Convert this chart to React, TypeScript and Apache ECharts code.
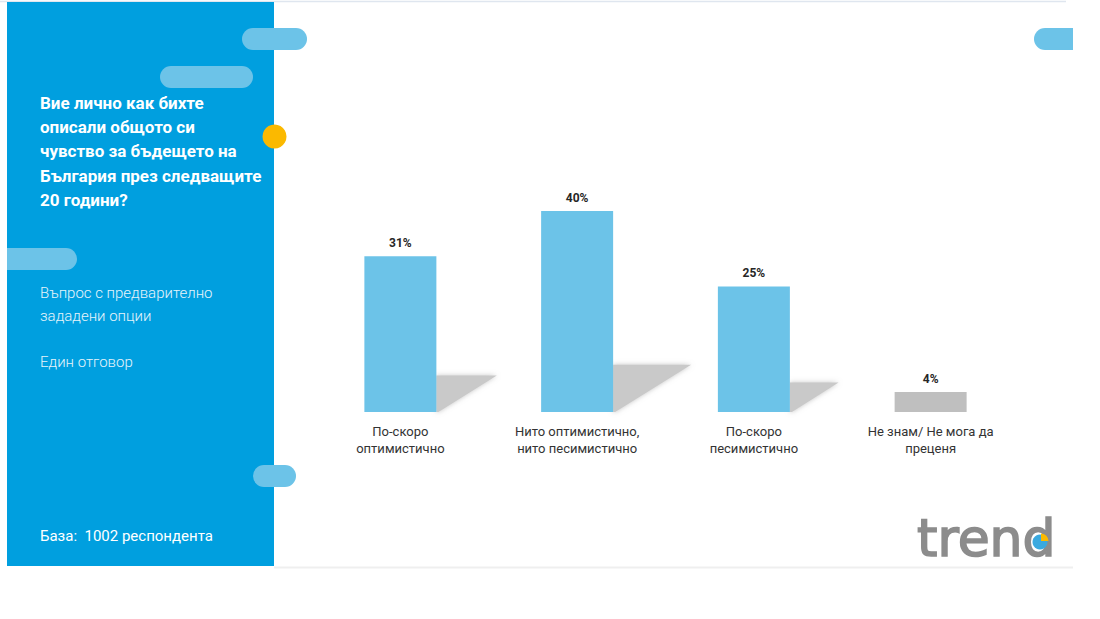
import React, { useEffect, useRef } from "react";
import * as echarts from "echarts";

const categories = [
  "По-скоро\nоптимистично",
  "Нито оптимистично,\nнито песимистично",
  "По-скоро\nпесимистично",
  "Не знам/ Не мога да\nпреценя",
];
const values = [31, 40, 25, 4];
const barColors = ["#6cc3e8", "#6cc3e8", "#6cc3e8", "#bfbfbf"];

const titleLines = [
  "Вие лично как бихте",
  "описали общото си",
  "чувство за бъдещето на",
  "България през следващите",
  "20 години?",
];
const noteLines = ["Въпрос с предварително", "зададени опции", "", "Един отговор"];
const baseText = "База:  1002 респондента";
const logoText = "trend";

const BLUE = "#009fdf";
const PILL = "#6cc3e8";

export default function App() {
  const ref = useRef<HTMLDivElement>(null);
  useEffect(() => {
    const chart = echarts.init(ref.current!, null, { renderer: "svg" });
    const pill = (x: number, y: number, w: number, h: number) => ({
      type: "rect",
      shape: { x, y, width: w, height: h, r: h / 2 },
      style: { fill: PILL },
      z: 1,
    });
    chart.setOption({
      animation: false,
      backgroundColor: "#ffffff",
      graphic: [
        { type: "line", shape: { x1: 0, y1: 1.5, x2: 1066, y2: 1.5 }, style: { stroke: "#dfe6ef", lineWidth: 1.5 }, z: 0 },
        { type: "line", shape: { x1: 274, y1: 567.5, x2: 1073, y2: 567.5 }, style: { stroke: "#efefef", lineWidth: 2 }, z: 0 },
        { type: "rect", shape: { x: 7, y: 2, width: 267, height: 564 }, style: { fill: BLUE }, z: 0 },
        { type: "rect", shape: { x: 1073, y: 0, width: 27, height: 619 }, style: { fill: "#ffffff" }, z: 3 },
        pill(242, 28, 65, 22),
        pill(160, 66, 93, 22),
        { type: "rect", shape: { x: 7, y: 248, width: 70, height: 22, r: [0, 11, 11, 0] }, style: { fill: PILL }, z: 1 },
        pill(253, 465, 43, 22),
        pill(1034, 28, 60, 22),
        { type: "circle", shape: { cx: 274.5, cy: 136.5, r: 12 }, style: { fill: "#fbb900" }, z: 2 },
        ...titleLines.map((t, i) => ({
          type: "text",
          x: 40,
          y: 103 + i * 24.2,
          style: { text: t, fill: "#ffffff", font: "bold 17px Roboto", textVerticalAlign: "middle" },
          z: 2,
        })),
        ...noteLines.map((t, i) => ({
          type: "text",
          x: 40,
          y: 293 + i * 23,
          style: { text: t, fill: "#e6f4fb", font: "300 15px Roboto", textVerticalAlign: "middle" },
          z: 2,
        })),
        {
          type: "text",
          x: 40,
          y: 536,
          style: { text: baseText, fill: "#ffffff", font: "15px Roboto", textVerticalAlign: "middle" },
          z: 2,
        },
        {
          type: "text",
          x: 917,
          y: 538,
          style: {
            text: logoText,
            fill: "#8c8c8c",
            stroke: "#8c8c8c",
            lineWidth: 1.6,
            fontSize: 52,
            fontWeight: "normal",
            fontFamily: "DejaVu Sans",
            textAlign: "left",
            textVerticalAlign: "middle",
          },
          z: 2,
        },
        { type: "circle", shape: { cx: 1040, cy: 542, r: 7.5 }, style: { fill: "#3aa9df" }, z: 4 },
        { type: "sector", shape: { cx: 1041, cy: 541, r: 7.5, r0: 0, startAngle: -Math.PI / 2, endAngle: 0 }, style: { fill: "#fbb900" }, z: 5 },
      ],
      grid: { left: 312, width: 707, top: 160.75, bottom: 207 },
      xAxis: {
        type: "category",
        data: categories,
        axisLine: { show: false },
        axisTick: { show: false },
        axisLabel: {
          interval: 0,
          margin: 11,
          fontSize: 13,
          lineHeight: 17,
          color: "#333333",
          fontFamily: "Roboto",
        },
      },
      yAxis: { type: "value", min: 0, max: 50, show: false, splitLine: { show: false } },
      series: [
        {
          type: "custom",
          z: 1,
          encode: { x: 0, y: 1 },
          data: values.map((v, i) => [i, v]),
          renderItem: (params: any, api: any) => {
            const idx = api.value(0);
            const v = api.value(1);
            if (v < 10) return null;
            const base = api.coord([idx, 0]);
            const top = api.coord([idx, v]);
            const h = (base[1] - top[1]) * 0.235;
            const xr = base[0] + 36;
            return {
              type: "polygon",
              shape: {
                points: [
                  [xr, base[1] - h],
                  [xr + h * 1.65, base[1] - h],
                  [xr + 2, base[1]],
                  [xr, base[1]],
                ],
              },
              style: {
                fill: "#c9c9c9",
                shadowBlur: 5,
                shadowColor: "rgba(190,190,190,0.9)",
              },
            };
          },
        },
        {
          type: "bar",
          z: 2,
          barWidth: 72,
          data: values.map((v, i) => ({ value: v, itemStyle: { color: barColors[i] } })),
          label: {
            show: true,
            position: "top",
            distance: 7,
            formatter: "{c}%",
            fontWeight: "bold",
            fontSize: 12,
            color: "#262626",
            fontFamily: "Roboto",
          },
        },
      ],
    });
    return () => chart.dispose();
  }, []);
  return <div ref={ref} style={{ position: "fixed", left: 0, top: 0, width: 1100, height: 619 }} />;
}
